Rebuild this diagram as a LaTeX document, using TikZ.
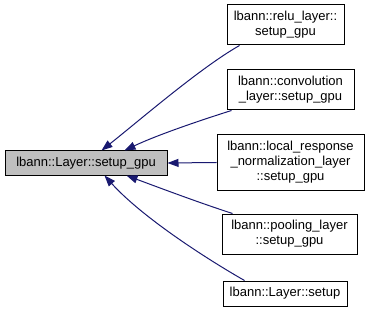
\documentclass[tikz,border=0pt]{standalone}
\usepackage{fontspec}
\setmainfont{Liberation Sans}
\usetikzlibrary{arrows.meta}
\definecolor{edgeblue}{RGB}{25,25,112}
\definecolor{curfill}{RGB}{191,191,191}
\begin{document}
\begin{tikzpicture}[x=1pt,y=-1pt,
  fn/.style={draw=black,line width=1pt,fill=white,align=center,inner sep=0pt,
    font=\fontsize{13}{15}\selectfont},
  cur/.style={fn,fill=curfill},
  call/.style={draw=edgeblue,line width=1pt,
    -{Triangle[length=11pt,width=8pt]}}]
  \useasboundingbox (0,0) rectangle (371,312);
  % function boxes
  \node[cur,minimum width=162pt,minimum height=24pt] (main) at (86,163) {lbann::Layer::setup\_gpu};
  \node[fn,minimum width=117pt,minimum height=40pt] (relu) at (285.5,25) {lbann::relu\_layer::\\setup\_gpu};
  \node[fn,minimum width=127pt,minimum height=40pt] (conv) at (290.5,90) {lbann::convolution\\\_layer::setup\_gpu};
  \node[fn,minimum width=147pt,minimum height=55pt] (lrn) at (290.5,162.5) {lbann::local\_response\\\_normalization\_layer\\::setup\_gpu};
  \node[fn,minimum width=135pt,minimum height=40pt] (pool) at (289.5,234) {lbann::pooling\_layer\\::setup\_gpu};
  \node[fn,minimum width=124pt,minimum height=25pt] (setup) at (285,293.5) {lbann::Layer::setup};
  % call edges
  \draw[call] ([xshift=13pt]relu.south west) .. controls (200,68) and (140,120) .. ([xshift=97pt]main.north west);
  \draw[call] ([xshift=5pt]conv.south west) .. controls (195,122) and (155,136) .. ([xshift=120pt]main.north west);
  \draw[call] (lrn.west) -- (main.east);
  \draw[call] ([xshift=11pt]pool.north west) .. controls (200,203) and (160,188) .. ([xshift=122pt]main.south west);
  \draw[call] ([xshift=22pt]setup.north west) .. controls (200,255) and (140,215) .. ([xshift=100pt]main.south west);
\end{tikzpicture}
\end{document}
